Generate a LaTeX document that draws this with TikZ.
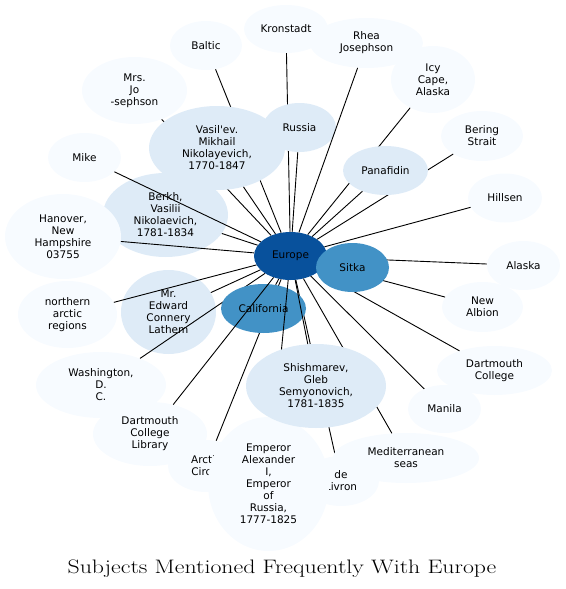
\documentclass[tikz,border=0pt]{standalone}
\usepackage{fontspec}
\usepackage{xcolor}
\usepackage{tikz}
\usetikzlibrary{shapes.geometric,positioning}

\newfontfamily\nodefont{DejaVu Sans}
\definecolor{blues1}{HTML}{F7FBFF}
\definecolor{blues2}{HTML}{DEEBF7}
\definecolor{blues6}{HTML}{4292C6}
\definecolor{blues8}{HTML}{08519C}

\begin{document}
\begin{tikzpicture}[
  x=1pt, y=-1pt,
  subject/.style={
    ellipse, inner sep=0pt, align=center,
    font=\nodefont\fontsize{10.5}{12}\selectfont
  },
  oval/.style 2 args={minimum width=#1pt, minimum height=#2pt},
  rare/.style={subject, fill=blues1},
  common/.style={subject, fill=blues2},
  frequent/.style={subject, fill=blues6},
  hub/.style={subject, fill=blues8},
  link/.style={draw=black, line width=0.9pt}
  ]
\useasboundingbox (0,0) rectangle (565,589);

% the hub
\node[hub, oval={73}{48}] (europe) at (290.5,256) {Europe};

% east, partly behind Sitka
\node[rare, oval={73}{49}] (alaska) at (523.5,265.5) {Alaska};
\draw[link] (europe) -- (alaska);
\node[rare, oval={81}{50}] (newalbion) at (482.5,307) {New\\Albion};
\draw[link] (europe) -- (newalbion);
\node[rare, oval={115}{49}] (dartmouth) at (494.5,370.5) {Dartmouth\\College};
\draw[link] (europe) -- (dartmouth);
\node[rare, oval={74}{49}] (hillsen) at (505,198) {Hillsen};
\draw[link] (europe) -- (hillsen);
\node[rare, oval={73}{48}] (manila) at (444.5,409) {Manila};
\draw[link] (europe) -- (manila);
\coordinate (sitkapos) at (352.5,267.5);
\draw[link] (europe) -- (sitkapos);
\node[frequent, oval={73}{49}] (sitka) at (sitkapos) {Sitka};

% north-west, behind Vasil'ev
\node[rare, oval={72}{49}] (baltic) at (206,45.5) {Baltic};
\draw[link] (europe) -- (baltic);
\node[rare, oval={105}{67}] (josephson) at (134.5,90.5) {Mrs.\\Jo\\-sephson};
\draw[link] (europe) -- (josephson);
\node[common, oval={136}{84}] (vasilev) at (217,148)
  {Vasil\textquotesingle ev.\\Mikhail\\Nikolayevich,\\1770-1847};
\draw[link] (europe) -- (vasilev);

% north
\node[rare, oval={84}{48}] (kronstadt) at (286,29) {Kronstadt};
\draw[link] (europe) -- (kronstadt);
\node[common, oval={73}{49}] (russia) at (299.5,127.5) {Russia};
\draw[link] (europe) -- (russia);
\node[rare, oval={113}{50}] (rhea) at (366.5,43) {Rhea\\Josephson};
\draw[link] (europe) -- (rhea);

% north-east, behind Panafidin
\node[rare, oval={84}{67}] (icycape) at (433,79.5) {Icy\\Cape,\\Alaska};
\draw[link] (europe) -- (icycape);
\node[rare, oval={82}{50}] (bering) at (482,136) {Bering\\Strait};
\draw[link] (europe) -- (bering);
\node[common, oval={85}{49}] (panafidin) at (385.5,170.5) {Panafidin};
\draw[link] (europe) -- (panafidin);

% west
\node[common, oval={125}{84}] (berkh) at (165.5,215)
  {Berkh,\\Vasilii\\Nikolaevich,\\1781-1834};
\draw[link] (europe) -- (berkh);
\node[rare, oval={73}{49}] (mike) at (84.5,157.5) {Mike};
\draw[link] (europe) -- (mike);
\node[rare, oval={116}{85}] (hanover) at (63,236.5)
  {Hanover,\\New\\Hampshire\\03755};
\draw[link] (europe) -- (hanover);

% south-west
\node[common, oval={95}{84}] (lathem) at (168.5,312)
  {Mr.\\Edward\\Connery\\Lathem};
\draw[link] (europe) -- (lathem);
\node[rare, oval={99}{67}] (northern) at (67.5,314.5) {northern\\arctic\\regions};
\draw[link] (europe) -- (northern);
\node[rare, oval={130}{66}] (washington) at (101,385) {Washington,\\D.\\C.};
\draw[link] (europe) -- (washington);

% south
\node[rare, oval={76}{52}] (arctic) at (206,466) {Arctic\\Circle};
\draw[link] (europe) -- (arctic);
\node[rare, oval={76}{50}] (livron) at (341,481) {de\\Livron};
\draw[link] (europe) -- (livron);
\node[rare, oval={146}{50}] (mediterranean) at (406,458) {Mediterranean\\seas};
\draw[link] (europe) -- (mediterranean);
\node[frequent, oval={85}{49}] (california) at (263.5,308.5) {California};
\draw[link] (europe) -- (california);
\node[rare, oval={114}{64}] (library) at (150,434)
  {Dartmouth\\College\\Library};
\draw[link] (europe) -- (library);
\node[rare, oval={121}{134}] (emperor) at (268.5,484)
  {Emperor\\Alexander\\I,\\Emperor\\of\\Russia,\\1777-1825};
\draw[link] (europe) -- (emperor);
\node[common, oval={140}{84}] (shishmarev) at (316,386)
  {Shishmarev,\\Gleb\\Semyonovich,\\1781-1835};
\draw[link] (europe) -- (shishmarev);

% caption
\node[anchor=base] (caption) at (282,573)
  {\fontsize{19.5}{23}\selectfont\scalebox{1.22}[1]{Subjects Mentioned Frequently With Europe}};

\end{tikzpicture}
\end{document}
